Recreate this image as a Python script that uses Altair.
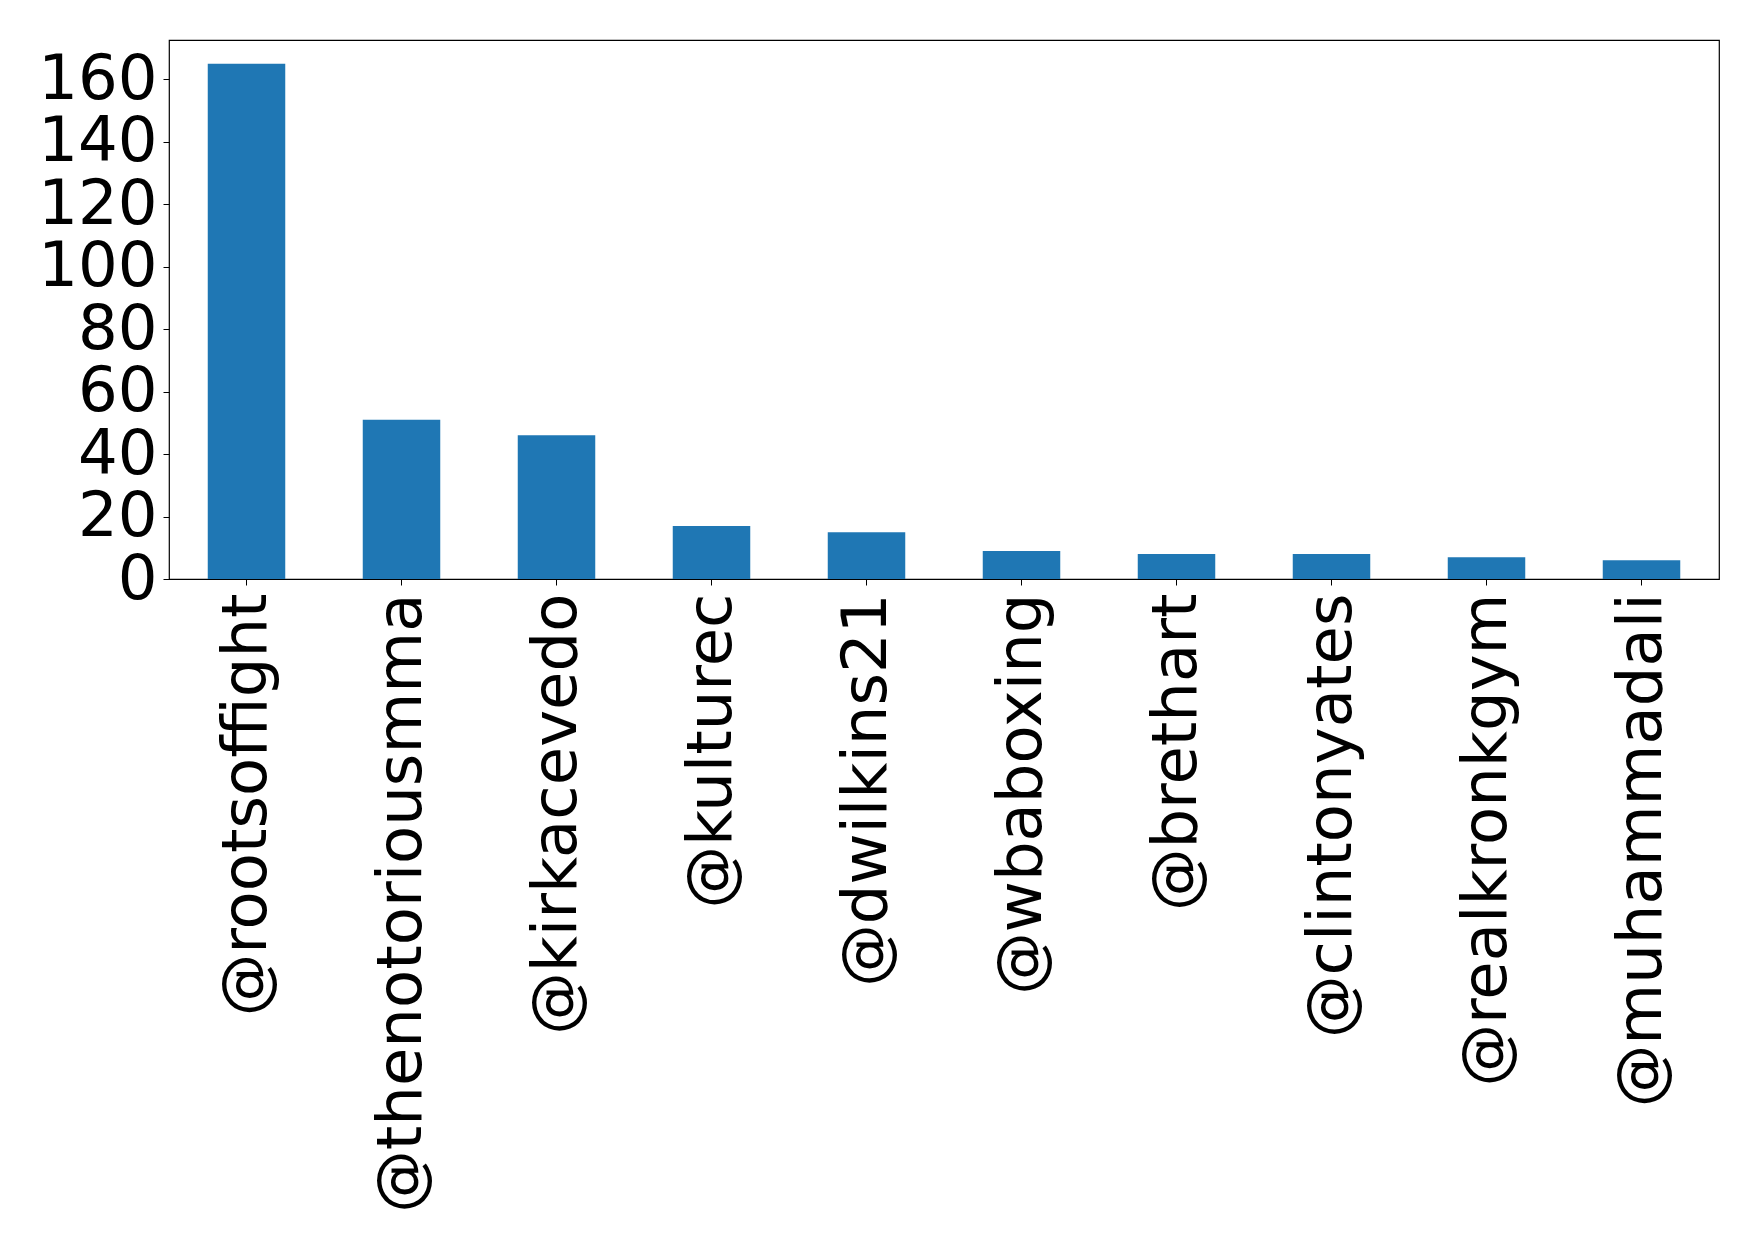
import altair as alt
import pandas as pd

accounts = ["@rootsoffight", "@thenotoriousmma", "@kirkacevedo", "@kulturec",
            "@dwilkins21", "@wbaboxing", "@brethart", "@clintonyates",
            "@realkronkgym", "@muhammadali"]
counts = [165, 51, 46, 17, 15, 9, 8, 8, 7, 6]
y_ticks = [0, 20, 40, 60, 80, 100, 120, 140, 160]

df = pd.DataFrame({"account": accounts, "count": counts})

FONT = "DejaVu Sans"
FS = 62.5

chart = alt.Chart(df).mark_bar(color="#1f77b4").encode(
    x=alt.X("account:N", sort=None, title=None,
            scale=alt.Scale(paddingInner=0.5, paddingOuter=0.25),
            axis=alt.Axis(labelAngle=270, labelFontSize=FS, labelFont=FONT,
                          labelColor="black", tickColor="black", tickSize=6,
                          tickWidth=1, labelPadding=8, domain=False,
                          labelLimit=1000, labelOverlap=False)),
    y=alt.Y("count:Q", title=None,
            scale=alt.Scale(domain=[0, 172.6], nice=False, zero=True),
            axis=alt.Axis(values=y_ticks, labelFontSize=FS, labelFont=FONT,
                          labelColor="black", tickColor="black", tickSize=6,
                          tickWidth=1, labelPadding=6, grid=False, domain=False,
                          labelOverlap=False, labelFlush=False)),
).properties(
    width=1550, height=539,
    autosize=alt.AutoSizeParams(type="none"),
    padding={"left": 169, "top": 40, "right": 39, "bottom": 668},
    background="white",
).configure_view(
    stroke="black", strokeWidth=1.2
)

chart.save("out.html", embed_options={"renderer": "svg", "actions": False})
